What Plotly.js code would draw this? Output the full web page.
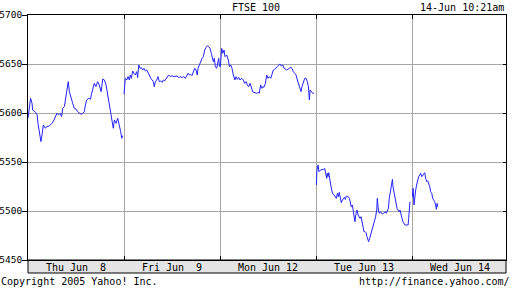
<!DOCTYPE html>
<html><head><meta charset="utf-8">
<script src="https://cdn.plot.ly/plotly-3.0.1.min.js"></script>
<style>html,body{margin:0;padding:0;background:#fff}#c{width:512px;height:288px}</style>
</head><body><div id="c"></div>
<script>
// Day labels (category band)
const dayLabels = ['Thu Jun \u00a08','Fri Jun \u00a09','Mon Jun 12','Tue Jun 13','Wed Jun 14'];
const yTicks = [5450,5500,5550,5600,5650,5700];

// minutes since 08:00 and index values per trading day
const thuMin = [0,7,14,22,25,38,49,54,61,70,76,83,94,101,116,130,141,148,157,166,175,182,188,197,204,211,218,224,233,242,251,260,269,278,287,296,305,311,318,329,338,345,350,359,368,377,386,396,405,414,423,432,441,450,455,462,468,477,486,495,502,508,513];
const thuVal = [5594.6,5604.8,5615,5609.9,5603.1,5601.4,5598.7,5589.5,5581,5570.8,5577.6,5587.8,5584.4,5586.1,5586.8,5589.5,5592.9,5596.3,5599.7,5598,5599.7,5596.3,5604.8,5606.5,5615,5625.2,5632,5621.8,5615,5609.9,5604.8,5604.1,5601.4,5599.7,5598.7,5599.7,5601.4,5608.2,5613.3,5615,5614,5620.1,5625.2,5630.3,5626.9,5632,5628.6,5621.8,5634.7,5633.7,5628.6,5618.4,5608.2,5596.3,5587.8,5584.4,5592.9,5589.5,5594.6,5587.8,5581,5574.2,5576.9];

const friMin = [0,4,7,15,22,29,34,40,47,54,61,69,74,80,87,94,101,108,116,123,130,137,145,152,159,164,170,177,184,191,199,206,213,220,228,235,242,251,260,269,278,287,296,305,314,323,332,341,347,354,361,368,376,383,390,397,401,408,415,423,430,437,444,452,459,466,473,479,484,489,495,502,508,513,517];
const friVal = [5619.1,5628.6,5635.4,5633.7,5637.1,5633.7,5638.8,5635.4,5642.9,5640.5,5638.8,5642.2,5636.1,5649,5645.6,5646.3,5643.9,5645.6,5642.9,5643.9,5640.5,5638.8,5635.4,5633.7,5632,5626.9,5632,5633.7,5637.1,5632,5632.7,5631.3,5633.7,5632.7,5635.4,5637.1,5638.8,5637.1,5638.1,5637.1,5637.1,5637.8,5636.1,5637.1,5636.1,5637.1,5635.4,5638.8,5640.5,5638.8,5639.5,5638.1,5642.2,5645.6,5643.9,5638.8,5645.6,5649,5652.4,5655.8,5657.5,5664.3,5666.7,5668.7,5667.7,5666,5660.9,5657.5,5652.4,5655.8,5647.3,5645.6,5652.4,5655.8,5647.3];

const monMin = [2,9,15,22,27,36,45,51,58,65,72,81,87,94,101,108,118,126,134,141,148,155,163,170,177,184,191,199,206,213,220,226,231,238,246,253,260,267,275,282,289,296,303,311,318,325,332,340,347,354,361,368,376,383,390,397,405,412,419,426,433,439,444,452,459,466,473,479,484,488,495,502,509];
const monVal = [5647.3,5666,5660.9,5664.3,5657.5,5659.2,5654.1,5647.3,5649,5645.6,5638.8,5633.7,5637.1,5634.4,5636.4,5633.7,5635.4,5633.7,5630.3,5632,5628.6,5626.9,5630.3,5625.2,5621.8,5621.1,5620.8,5620.1,5620.8,5620.4,5628.6,5625.2,5626.9,5626.2,5630.3,5638.8,5635.4,5637.1,5635.4,5640.5,5643.9,5644.6,5645.6,5647.3,5649,5650,5648,5649,5645.6,5644.6,5643.9,5644.6,5645.6,5646.6,5645.6,5642.2,5640.5,5638.8,5633.7,5628.6,5623.5,5621.8,5626.9,5632,5635.4,5635.4,5632,5626.9,5613.3,5623.5,5621.8,5620.1,5620.1];

const tueMin = [2,5,11,16,24,33,42,47,52,58,61,65,69,74,80,85,90,98,105,110,116,121,126,132,137,143,148,154,159,164,170,175,181,186,191,197,202,208,211,217,222,228,233,238,244,249,255,260,266,271,276,282,285,291,296,302,307,312,318,323,329,332,338,343,349,354,359,365,370,376,381,387,392,397,403,408,414,417,423,428,433,439,444,450,455,461,466,471,477,482,488,493,499,502,506,509];
const tueVal = [5526.5,5541.8,5546.9,5540.1,5541.8,5541.8,5542.5,5543.5,5540.1,5533.3,5538.4,5535,5539.1,5531.6,5526.5,5521.4,5518,5516.3,5514.6,5512.9,5518,5514.6,5519,5514.6,5508.5,5511.2,5512.9,5513.9,5511.9,5515.3,5514.6,5514.6,5512.9,5507.8,5504.4,5506.1,5501,5495.9,5489.1,5497.6,5501,5495.9,5494.2,5492.5,5494.2,5489.1,5480.6,5478.9,5478.9,5477.9,5473.8,5470.4,5468.7,5472.1,5475.5,5477.9,5480.6,5484,5489.1,5494.2,5501,5512.9,5501,5497.6,5499.3,5497.6,5496.9,5497.6,5498.3,5499.3,5497.6,5501,5502.7,5512.9,5521.4,5528.2,5532.3,5524.8,5518,5512.9,5507.8,5502.7,5501,5499.3,5501,5497.6,5492.5,5489.1,5487.4,5485.7,5485.7,5485.7,5485.7,5492.5,5504.4,5509.5];

const wedMin = [2,6,11,15,20,25,31,36,42,47,53,58,63,69,74,80,85,90,96,101,107,112,118,123,128,132,136,139];
const wedVal = [5514.6,5523.1,5506.1,5518,5521.4,5526.5,5531.6,5535,5536.7,5538.4,5535,5536.7,5538.4,5539.1,5533.3,5529.9,5530.9,5528.2,5524.8,5519.7,5518,5512.9,5511.2,5509.5,5506.1,5501.7,5507.8,5504.4];

const DAY = 520; // minutes per day column (08:00 - 16:40)
const days = [[thuMin,thuVal],[friMin,friVal],[monMin,monVal],[tueMin,tueVal],[wedMin,wedVal]];
const xs = [], ys = [];
days.forEach((d,i)=>{
  d[0].forEach((m,j)=>{ xs.push(i*DAY+m); ys.push(d[1][j]); });
  xs.push(null); ys.push(null);
});

const F = {family:'DejaVu Sans Mono, monospace', size:10, color:'#000'};
const FY = {family:'DejaVu Sans Mono, monospace', size:9.5, color:'#000'};
const xMax = 478/96*DAY;
const bounds = [1,2,3,4].map(i=>i*DAY);
const mids = dayLabels.map((_,i)=>i*DAY+DAY/2);

const data = [
  {x:xs, y:ys, type:'scatter', mode:'lines', line:{color:'#2323ff', width:1}, connectgaps:false, hoverinfo:'skip'},
  {x:[null], y:[null], xaxis:'x2', yaxis:'y2', type:'scatter', mode:'lines', hoverinfo:'skip'}
];

const layout = {
  width:512, height:288,
  margin:{l:28, r:6, t:15, b:28, pad:0},
  paper_bgcolor:'#fff', plot_bgcolor:'#fff',
  showlegend:false,
  font:F,
  title:{text:'FTSE 100', font:F, xref:'container', yref:'container', x:0.5, y:1-7/288, xanchor:'center', yanchor:'middle'},
  xaxis:{range:[0,xMax], tickmode:'array', tickvals:bounds, showticklabels:false,
         ticks:'inside', ticklen:4, tickcolor:'#000', tickwidth:1,
         showgrid:true, gridcolor:'#a6a6a6', gridwidth:1,
         showline:true, linecolor:'#000', linewidth:1, mirror:'ticks', zeroline:false, fixedrange:true},
  xaxis2:{overlaying:'x', range:[0,xMax], tickmode:'array', tickvals:mids, ticktext:dayLabels,
          ticks:'', showgrid:false, showline:false, zeroline:false, tickfont:F, side:'bottom'},
  yaxis:{range:[5450,5700], tickmode:'array', tickvals:yTicks, ticktext:yTicks.map(String),
         ticks:'outside', ticklen:5, tickcolor:'#000', tickwidth:1, ticklabelstandoff:-2,
         showgrid:true, gridcolor:'#a6a6a6', gridwidth:1,
         showline:true, linecolor:'#000', linewidth:1, mirror:true, zeroline:false, tickfont:FY},
  yaxis2:{overlaying:'y', side:'right', range:[5450,5700], tickmode:'array', tickvals:yTicks,
          ticks:'inside', ticklen:3, tickcolor:'#000', showticklabels:false, showgrid:false, showline:false, zeroline:false},
  shapes:[
    {type:'rect', xref:'paper', yref:'paper', x0:0, x1:1, y0:-13/245, y1:0, fillcolor:'#e4e4e4', line:{color:'#000', width:1}, layer:'below'}
  ],
  annotations:[
    {text:'14-Jun 10:21am', xref:'paper', yref:'paper', x:(505-28)/478, y:1+8/245, xanchor:'right', yanchor:'middle', showarrow:false, font:F, borderpad:0},
    {text:'Copyright 2005 Yahoo! Inc.', xref:'paper', yref:'paper', x:-28/478, y:-21/245, xanchor:'left', yanchor:'middle', showarrow:false, font:F, borderpad:0},
    {text:'http://finance.yahoo.com/', xref:'paper', yref:'paper', x:(511-28)/478, y:-21/245, xanchor:'right', yanchor:'middle', showarrow:false, font:F, borderpad:0}
  ]
};
Plotly.newPlot('c', data, layout, {displayModeBar:false, staticPlot:true});
</script>
</body></html>
